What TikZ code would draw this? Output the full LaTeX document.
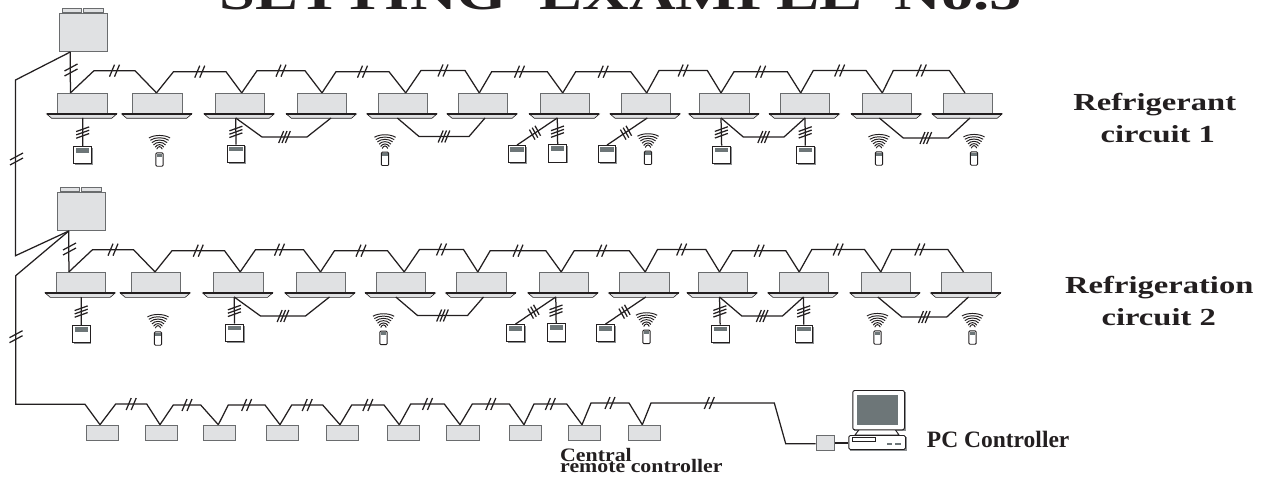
\documentclass[tikz,border=0pt]{standalone}
\usepackage{fontspec,tikz}
\usetikzlibrary{calc}
\newfontfamily\labelfont[FakeStretch=1.33]{Liberation Serif}
\newfontfamily\noteFont[FakeStretch=1.15]{Liberation Serif}
\newfontfamily\pcFont{Liberation Serif}
\definecolor{inkdark}{HTML}{231F20}
\definecolor{unitfill}{HTML}{E0E1E3}
\definecolor{unitedge}{HTML}{6A6C6E}
\definecolor{screengray}{HTML}{6D7678}
\definecolor{shadowgray}{HTML}{8E9193}
\tikzset{
  wire/.style={draw=inkdark,line width=1.25pt,line join=miter},
  thinwire/.style={draw=inkdark,line width=0.95pt},
  unitbody/.style={draw=unitedge,line width=1pt,fill=unitfill,inner sep=0pt,anchor=north west},
  textlabel/.style={inner sep=0pt,text=inkdark,font=\labelfont\bfseries\fontsize{#1}{#1}\selectfont},
  notelabel/.style={inner sep=0pt,text=inkdark,font=\noteFont\bfseries\fontsize{#1}{#1}\selectfont},
  pclabel/.style={inner sep=0pt,text=inkdark,font=\pcFont\bfseries\fontsize{#1}{#1}\selectfont},
  pics/hcut/.style={code={
    \foreach \k in {1,...,#1} \draw[wire] ({(\k-(#1+1)/2)*(10/#1)-2.5},6) -- ({(\k-(#1+1)/2)*(10/#1)+2.5},-6);
  }},
  pics/vcut/.style={code={
    \foreach \k in {1,...,#1} \draw[wire] (-6.5,{(\k-(#1+1)/2)*(10/#1)+7/#1}) -- (6.5,{(\k-(#1+1)/2)*(10/#1)-7/#1});
  }},
  pics/dcut/.style={code={
    \foreach \k in {-1,0,1} \draw[wire] ({\k*2.8-2.8},{\k*-1.9-5}) -- ({\k*2.8+2.8},{\k*-1.9+5});
  }},
  cassette/.pic={
    \node[unitbody,minimum width=49.3pt,minimum height=21.3pt] (-b) at (0,0) {};
    \draw[line width=0.6pt,draw=inkdark,fill=unitfill] (-10.6,21.3) -- (59.4,21.3) -- (54.4,25.6) -- (-5.6,25.6) -- cycle;
    \draw[wire] (-10.6,21.3) -- (59.4,21.3);
  },
  outdoor/.pic={
    \draw[draw=unitedge,line width=0.8pt,fill=unitfill] (3.6,0) rectangle (22.6,-4);
    \draw[draw=unitedge,line width=0.8pt,fill=unitfill] (24.6,0) rectangle (44.3,-4);
    \node[unitbody,minimum width=48pt,minimum height=38.3pt] (-b) at (0,0) {};
  },
  wired/.pic={
    \fill[shadowgray] (1.8,1.8) rectangle (19.6,19.2);
    \node[draw=inkdark,line width=1pt,fill=white,inner sep=0pt,minimum width=17.7pt,minimum height=17.4pt,anchor=north west] (-b) at (0,0) {};
    \fill[screengray] (2.7,2) rectangle (16,6.7);
  },
  wireless/.pic={
    \foreach \w/\h in {10.6/0,9.2/2.3,7.6/4.6,6/6.9,4.4/9.2,2.8/11.2}
      \draw[thinwire] (-\w,\h+3) .. controls ({-\w/2},\h-0.4) and ({\w/2},\h-0.4) .. (\w,\h+3);
    \node[draw=inkdark,line width=0.9pt,fill=white,rounded corners=1pt,inner sep=0pt,minimum width=7.2pt,minimum height=13.4pt,anchor=north] (-b) at (0,17.4) {};
    \fill[screengray] (-2.6,18.8) rectangle (2.6,22);
  },
  centralunit/.style={unitbody,minimum width=32.3pt,minimum height=15.7pt},
}
\begin{document}
\begin{tikzpicture}[x=1pt,y=-1pt]
\path[use as bounding box] (0,0) rectangle (1268,478);
\node[anchor=base,textlabel=48.6] (title) at (621,9.5) {SETTING\ \ EXAMPLE\ \ No.5};
% both circuits, second one is the first moved
\foreach \rc/\dx/\dy in {a/0/0,b/-1.5/179}{
\begin{scope}[xshift=\dx,yshift=-\dy]
\pic (\rc out) at (58.7,12.7) {outdoor};
\foreach \n/\x/\ax in {1/57.3/70.4,2/132.3/156.5,3/214.7/241.7,4/297/322,5/377.5/405.7,6/457.7/479.3,7/540/562.7,8/620.7/646.7,9/699.3/721,10/780/800.7,11/862/882.3,12/942.7/965}{
  \pic (\rc u\n) at (\x,92.7) {cassette};
  \coordinate (\rc a\n) at (\ax,92.9);
}
\draw[wire] (\rc out-b.south west) ++(11.6,0) coordinate (\rc o) -- (\rc a1);
\pic at (71,70) {vcut=2};
% top wiring
\foreach \n/\m/\p/\q/\y in {1/2/94/135/70.7,2/3/173.5/226/71.7,3/4/257/305/70.7,4/5/336/389/71.7,5/6/421/465/70.5,6/7/491.7/547.3/71.7,7/8/575.7/630.7/71.7,8/9/659/707.3/70.5,9/10/734/787.3/71.7,10/11/813.3/866/70.5,11/12/893.3/949.3/70.5}{
  \draw[wire] (\rc a\n) -- (\p,\y) -- (\q,\y) -- (\rc a\m);
  \pic at ({(\p+\q)/2},\y) {hcut=2};
}
% lower links between units
\foreach \n/\jx in {1/82.7,3/235.7,4/331,5/397.3,6/485,7/557.3,8/647.3,9/721,10/805,11/879.3,12/970}
  \coordinate (\rc j\n) at (\jx,118);
\foreach \n/\m/\p/\q/\y in {3/4/262/307/137,5/6/419/469/136.5,9/10/743.3/784/137,11/12/903.3/948.3/138}{
  \draw[wire] (\rc j\n) -- (\p,\y) -- (\q,\y) -- (\rc j\m);
  \pic at ({(\p+\q)/2},\y) {hcut=3};
}
% wired remotes
\foreach \r/\x/\y/\n in {1/73.3/146/1,2/226.7/144.7/3,3/548.3/144.3/7,4/712.3/145.7/9,5/796/145.7/10}{
  \pic (\rc r\r) at (\x,\y) {wired};
  \draw[wire] (\rc j\n) -- (\rc r\r-b.north);
  \pic at ($(\rc j\n)!0.52!(\rc r\r-b.north)$) {vcut=3};
}
\pic (\rc r6) at (507.7,145) {wired};
\pic (\rc r7) at (597.7,145) {wired};
\draw[wire] (\rc j7) -- (\rc r6-b.north);
\draw[wire] (\rc j8) -- (\rc r7-b.north);
\pic at (535,132.7) {dcut};
\pic at (626,132.7) {dcut};
% wireless remotes
\foreach \n/\x/\y in {1/159.5/135,2/385/134.3,3/648/133.3,4/879/134,5/974/134}
  \pic (\rc w\n) at (\x,\y) {wireless};
\end{scope}
}
% link between outdoor units and the long run
\draw[wire] (ao) -- (15.5,80) -- (15.5,255.7) -- (bo);
\pic at (16.5,159) {vcut=2};
\foreach \n/\x/\ax in {1/86/100,2/145/160,3/202.7/218.3,4/265.7/280,5/325.7/340,6/387/399.3,7/446.3/460,8/509/524,9/567.7/582,10/628/642.3}{
  \node[centralunit] (c\n) at (\x,424.7) {};
  \coordinate (ca\n) at (\ax,424.7);
}
\draw[wire] (bo) -- (15.7,275.7) -- (15.7,404.3) -- (85,404.3) -- (ca1);
\pic at (16,336.7) {vcut=2};
\foreach \n/\m/\p/\q/\y in {1/2/115.7/146.7/404,2/3/173.3/200.7/405,3/4/228.3/265/405,4/5/291.7/322.7/405,5/6/351.7/384/405,6/7/410.7/444.3/404,7/8/472.3/509.3/404,8/9/534/566.7/404,9/10/591/629/403}{
  \draw[wire] (ca\n) -- (\p,\y) -- (\q,\y) -- (ca\m);
  \pic at ({(\p+\q)/2},\y) {hcut=2};
}
% pc end
\node[unitbody,minimum width=18pt,minimum height=15pt] (adapter) at (815.7,435) {};
\draw[wire] (ca10) -- (651,403) -- (774.3,403) -- (785.7,443.7) -- (adapter.west |- 0,443.7);
\pic at (709.3,403) {hcut=2};
\fill[shadowgray] (854,391.5) rectangle (905.5,431);
\fill[shadowgray] (850,437) rectangle (906.5,450.5);
\draw[thinwire,fill=white] (859.3,429.3) -- (855,435) -- (899,435) -- (895,429.3) -- cycle;
\node[draw=inkdark,line width=0.95pt,fill=white,rounded corners=2pt,inner sep=0pt,minimum width=51.7pt,minimum height=39.3pt,anchor=north west] (monitor) at (852.3,390) {};
\fill[screengray] (857,394.7) rectangle (898,425);
\node[draw=inkdark,line width=0.95pt,fill=white,rounded corners=1.5pt,inner sep=0pt,minimum width=56.7pt,minimum height=14pt,anchor=north west] (pccase) at (848.3,435) {};
\draw[thinwire] (852.3,437.3) rectangle (875.7,441.3);
\fill[screengray] (887.3,442.7) rectangle (892.3,445);
\fill[screengray] (895,442.7) rectangle (900.7,445);
\draw[wire] (adapter.east) -- (pccase.west |- adapter.east);
% labels
\node[anchor=base,textlabel=24.5] (lab1) at (1154.7,110.7) {Refrigerant};
\node[anchor=base,textlabel=24.5] (lab2) at (1157.8,142.3) {circuit 1};
\node[anchor=base,textlabel=24.5] (lab3) at (1159.3,293.3) {Refrigeration};
\node[anchor=base,textlabel=24.5] (lab4) at (1158.7,325) {circuit 2};
\node[anchor=base west,notelabel=19] (lab5) at (560,461) {Central};
\node[anchor=base west,notelabel=19] (lab6) at (560,472) {remote controller};
\node[anchor=base west,pclabel=23.5] (lab7) at (926.7,447.7) {PC Controller};
\end{tikzpicture}
\end{document}
